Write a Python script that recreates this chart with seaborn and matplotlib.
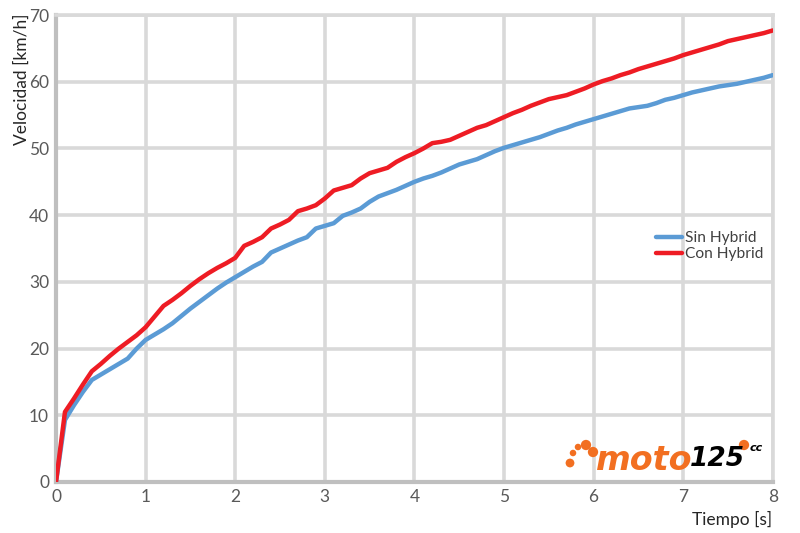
import numpy as np
import pandas as pd
import seaborn as sns
import matplotlib.pyplot as plt

# -----------------------------
# Data
# -----------------------------
tiempo = np.round(np.arange(0, 8.01, 0.1), 1)

sin_hybrid = [
    0.0, 9.3, 11.5, 13.5, 15.3, 16.1, 16.9, 17.7, 18.5, 20.0,
    21.3, 22.1, 22.9, 23.8, 24.9, 26.0, 27.0, 28.0, 29.0, 29.9,
    30.7, 31.5, 32.3, 33.0, 34.4, 35.0, 35.6, 36.2, 36.7, 38.0,
    38.4, 38.8, 39.9, 40.4, 41.0, 42.0, 42.8, 43.3, 43.8, 44.4,
    45.0, 45.5, 45.9, 46.4, 47.0, 47.6, 48.0, 48.4, 49.0, 49.6,
    50.1, 50.5, 50.9, 51.3, 51.7, 52.2, 52.7, 53.1, 53.6, 54.0,
    54.4, 54.8, 55.2, 55.6, 56.0, 56.2, 56.4, 56.8, 57.3, 57.6,
    58.0, 58.4, 58.7, 59.0, 59.3, 59.5, 59.7, 60.0, 60.3, 60.6,
    61.0,
]

con_hybrid = [
    0.0, 10.5, 12.5, 14.6, 16.6, 17.7, 18.9, 20.0, 21.0, 22.0,
    23.2, 24.8, 26.4, 27.3, 28.3, 29.4, 30.4, 31.3, 32.1, 32.8,
    33.6, 35.4, 36.0, 36.7, 38.0, 38.6, 39.3, 40.6, 41.0, 41.5,
    42.5, 43.7, 44.1, 44.5, 45.5, 46.3, 46.7, 47.1, 48.0, 48.7,
    49.3, 50.0, 50.8, 51.0, 51.3, 51.9, 52.5, 53.1, 53.5, 54.1,
    54.7, 55.3, 55.8, 56.4, 56.9, 57.4, 57.7, 58.0, 58.5, 59.0,
    59.6, 60.1, 60.5, 61.0, 61.4, 61.9, 62.3, 62.7, 63.1, 63.5,
    64.0, 64.4, 64.8, 65.2, 65.6, 66.1, 66.4, 66.7, 67.0, 67.3,
    67.7,
]

series_names = ["Sin Hybrid", "Con Hybrid"]
series_colors = ["#5B9BD5", "#EE1C24"]

x_ticks = list(range(0, 9))
y_ticks = list(range(0, 71, 10))

# -----------------------------
# Build long table
# -----------------------------
df = pd.DataFrame({
    "Tiempo": np.concatenate([tiempo, tiempo]),
    "Velocidad": sin_hybrid + con_hybrid,
    "Serie": [series_names[0]] * len(tiempo) + [series_names[1]] * len(tiempo),
})

sns.set_style("white")
plt.rcParams["font.family"] = ["Lato", "DejaVu Sans"]

fig = plt.figure(figsize=(8, 5.33), dpi=100)
ax = fig.add_axes([0.07, 0.0957, 0.896, 0.876])

sns.lineplot(data=df, x="Tiempo", y="Velocidad", hue="Serie",
             palette=dict(zip(series_names, series_colors)),
             linewidth=3.2, ax=ax, zorder=3)

ax.set_xlim(0, 8)
ax.set_ylim(0, 70)
ax.set_xticks(x_ticks)
ax.set_yticks(y_ticks)
ax.grid(True, color="#d9d9d9", linewidth=2.6, zorder=0)
ax.set_axisbelow(True)

for side in ["top", "right"]:
    ax.spines[side].set_color("#d9d9d9")
    ax.spines[side].set_linewidth(2.6)
for side in ["left", "bottom"]:
    ax.spines[side].set_color("#bfbfbf")
    ax.spines[side].set_linewidth(3)

ax.tick_params(axis="both", length=0, labelsize=12.5, labelcolor="#595959", pad=5)
ax.set_xlabel("")
ax.set_ylabel("")

fig.text(0.027, 0.975, "Velocidad [km/h]", rotation=90, ha="center", va="top",
         fontsize=12.5, color="#262626")
fig.text(0.965, 0.025, "Tiempo [s]", ha="right", va="center",
         fontsize=12.5, color="#262626")

leg = ax.legend(loc="center left", bbox_to_anchor=(0.828, 0.505), frameon=False,
                fontsize=11.2, handlelength=1.7, handletextpad=0.2,
                labelspacing=0.1, borderaxespad=0)
for t in leg.get_texts():
    t.set_color("#404040")
for h in leg.get_lines():
    h.set_linewidth(3.2)

# -----------------------------
# moto125 logo (overlay in pixel coords)
# -----------------------------
orange = "#F26F21"
lax = fig.add_axes([0, 0, 1, 1], zorder=5)
lax.set_xlim(0, 800)
lax.set_ylim(533, 0)
lax.axis("off")
lax.scatter([570, 573, 578, 586, 593, 744], [463, 453, 447, 445, 452, 445],
            s=[40, 22, 22, 55, 55, 55], color=orange, linewidths=0)
lax.text(596, 461, "moto", fontsize=24, fontweight="bold", style="italic",
         color=orange, ha="left", va="center", family="DejaVu Sans")
lax.text(690, 459, "125", fontsize=19, fontweight="bold", style="italic",
         color="black", ha="left", va="center", family="DejaVu Sans")
lax.text(750, 448, "cc", fontsize=8, fontweight="bold", style="italic",
         color="black", ha="left", va="center", family="DejaVu Sans")

fig.savefig("out.png", dpi=100)
